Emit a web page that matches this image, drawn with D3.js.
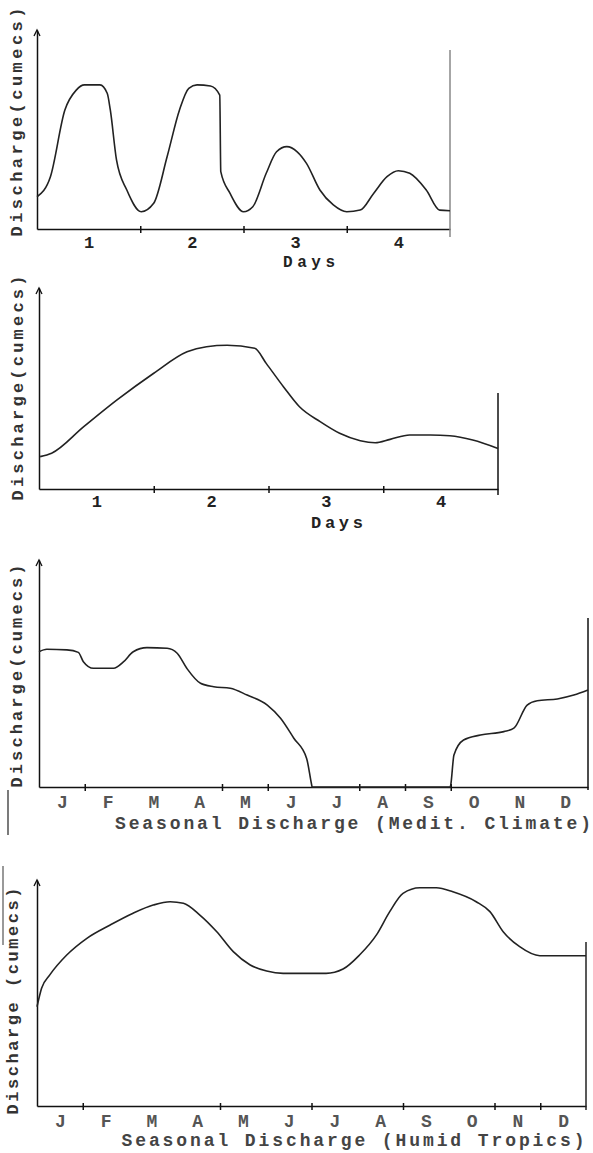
<!DOCTYPE html>
<html>
<head>
  <meta charset="utf-8">
  <title>Discharge hydrographs</title>
  <style>
  body {
    margin: 0;
    background: #fff;
  }
  .curve {
    fill: none;
    stroke: #222;
    stroke-width: 1.6;
  }
  .axis path, .axis line {
    stroke: #111;
    stroke-width: 1.5;
  }
  .lbl {
    font-family: "Liberation Mono", "DejaVu Sans Mono", monospace;
    fill: #222;
  }
  </style>
</head>
<body>
  <div id="chart"></div>

  <script src="https://d3js.org/d3.v7.min.js"></script>
  <script>
  // tick labels
  var dayLabels = ["1", "2", "3", "4"]
  var dayCenters = [1, 2, 3, 4]
  var dayTicks = [1.5, 2.5, 3.5]
  var monthLabels = ["J", "F", "M", "A", "M", "J", "J", "A", "S", "O", "N", "D"]
  var monthCenters = [0.5, 1.5, 2.5, 3.5, 4.5, 5.5, 6.5, 7.5, 8.5, 9.5, 10.5, 11.5]
  var meditTicks = [1, 4, 5, 7, 8, 9]
  var tropicsTicks = [1, 4, 6, 8, 10, 11]

  // hydrograph 1 : daily peaks, discharge in arbitrary units (0-10)
  var daysA = [0.50, 0.63, 0.77, 0.88, 0.96, 1.11, 1.18, 1.21, 1.27, 1.37, 1.51, 1.63, 1.76, 1.88, 1.97,
               2.05, 2.18, 2.27, 2.28, 2.37, 2.50, 2.59, 2.72, 2.82, 2.92, 3.02, 3.11, 3.24, 3.37, 3.50,
               3.63, 3.76, 3.89, 4.00, 4.11, 4.27, 4.40, 4.50]
  var dischargeA = [1.62, 2.63, 5.98, 6.98, 7.24, 7.24, 6.82, 5.98, 3.47, 1.96, 0.87, 1.29, 3.63, 5.98, 7.07,
                    7.24, 7.19, 6.73, 2.88, 1.79, 0.87, 1.12, 2.80, 3.88, 4.14, 3.88, 3.30, 1.96, 1.21, 0.87,
                    0.95, 1.79, 2.63, 2.93, 2.80, 1.96, 0.95, 0.92]

  // hydrograph 2 : one broad flood wave
  var daysB = [0.51, 0.61, 0.89, 1.18, 1.50, 1.79, 1.96, 2.14, 2.38, 2.48, 2.63, 2.77, 2.95, 3.12, 3.30,
               3.43, 3.56, 3.73, 3.91, 4.08, 4.28, 4.50]
  var dischargeB = [1.61, 1.78, 3.10, 4.43, 5.76, 6.83, 7.08, 7.15, 7.00, 6.25, 5.09, 4.09, 3.35, 2.77, 2.40,
                    2.30, 2.47, 2.69, 2.69, 2.65, 2.44, 2.02]

  // seasonal regime, mediterranean climate (months from 1 Jan)
  var monthsMedit = [0, 0.17, 0.61, 0.86, 0.97, 1.19, 1.63, 1.85, 2.06, 2.36, 2.80, 3.02, 3.23, 3.53, 3.82,
                     4.18, 4.55, 4.99, 5.28, 5.57, 5.85, 5.96, 5.97, 8.99, 9.00, 9.07, 9.28, 9.65, 10.16,
                     10.38, 10.67, 10.89, 11.33, 11.69, 12]
  var dischargeMedit = [5.96, 6.07, 6.04, 5.93, 5.52, 5.23, 5.23, 5.52, 5.96, 6.14, 6.11, 5.89, 5.23, 4.57, 4.42,
                        4.35, 4.05, 3.61, 3.03, 2.15, 1.26, 0.09, 0, 0, 0.09, 1.41, 2.07, 2.29, 2.44,
                        2.59, 3.61, 3.80, 3.88, 4.05, 4.27]

  // seasonal regime, humid tropics
  var monthsTropics = [0, 0.10, 0.28, 0.65, 1.09, 1.60, 2.10, 2.54, 2.91, 3.20, 3.56, 3.93, 4.29, 4.66, 5.02,
                       5.38, 6.32, 6.69, 7.05, 7.42, 7.71, 8.00, 8.37, 8.73, 9.09, 9.60, 9.90, 10.19, 10.55,
                       10.99, 11.43, 12]
  var dischargeTropics = [4.39, 5.21, 5.80, 6.68, 7.42, 8.01, 8.53, 8.89, 9.04, 8.97, 8.45, 7.71, 6.83, 6.24, 5.97,
                          5.87, 5.87, 6.06, 6.68, 7.57, 8.60, 9.41, 9.66, 9.66, 9.48, 9.04, 8.60, 7.71, 7.05,
                          6.65, 6.65, 6.65]

  var W = 593, H = 1153

  var svg = d3.select("#chart").append("svg")
    .attr("width", W)
    .attr("height", H)

  svg.append("rect").attr("width", W).attr("height", H).attr("fill", "#fff")

  var panels = [
    {xs: daysA, ys: dischargeA, domain: [0.5, 4.5], xr: [37, 450], yr: [229, 30],
     ticks: dayTicks, centers: dayCenters, labels: dayLabels, tickFont: 17, bold: true, labelY: 248,
     title: "Days", titleX: 309, titleY: 267, titleLen: 52, titleFont: 16,
     ylab: "Discharge(cumecs)", ylabX: 17, ylabLen: 229, ylabCenter: 122,
     right: [50, 237], rightColor: "#888", xAxisColor: "#888"},
    {xs: daysB, ys: dischargeB, domain: [0.5, 4.5], xr: [39, 498], yr: [489, 288],
     ticks: dayTicks, centers: dayCenters, labels: dayLabels, tickFont: 17, bold: true, labelY: 507,
     title: "Days", titleX: 337, titleY: 528, titleLen: 52, titleFont: 17,
     ylab: "Discharge(cumecs)", ylabX: 18, ylabLen: 225, ylabCenter: 388,
     right: [393, 495], rightColor: "#111", xAxisColor: "#111"},
    {xs: monthsMedit, ys: dischargeMedit, domain: [0, 12], xr: [39, 588], yr: [787, 560],
     ticks: meditTicks, centers: monthCenters, labels: monthLabels, tickFont: 18, bold: false, labelY: 808,
     title: "Seasonal Discharge (Medit. Climate)", titleX: 353, titleY: 829, titleLen: 476, titleFont: 18,
     ylab: "Discharge(cumecs)", ylabX: 17, ylabLen: 223, ylabCenter: 676,
     right: [618, 790], rightColor: "#111", xAxisColor: "#111"},
    {xs: monthsTropics, ys: dischargeTropics, domain: [0, 12], xr: [37, 586], yr: [1106, 880],
     ticks: tropicsTicks, centers: monthCenters, labels: monthLabels, tickFont: 18, bold: false, labelY: 1127,
     title: "Seasonal Discharge (Humid Tropics)", titleX: 353, titleY: 1146, titleLen: 463, titleFont: 18,
     ylab: "Discharge (cumecs)", ylabX: 13, ylabLen: 227, ylabCenter: 1001,
     right: [942, 1110], rightColor: "#222", xAxisColor: "#222"}
  ]

  function drawPanel(p) {
    var x = d3.scaleLinear().domain(p.domain).range(p.xr)
    var y = d3.scaleLinear().domain([0, 10]).range(p.yr)
    var y0 = p.yr[0]

    // y axis, no ticks
    svg.append("g")
      .attr("class", "axis")
      .attr("transform", "translate(" + p.xr[0] + ",0)")
      .call(d3.axisLeft(y).tickValues([]).tickSizeOuter(0))

    // little arrow head on top of y axis
    svg.append("path")
      .attr("d", "M" + (p.xr[0] - 3) + "," + (p.yr[1] + 6) + "L" + p.xr[0] + "," + p.yr[1] + "L" + (p.xr[0] + 3) + "," + (p.yr[1] + 6))
      .attr("fill", "none")
      .attr("stroke", "#111")
      .attr("stroke-width", 1.3)

    // x axis with boundary ticks
    var xa = svg.append("g")
      .attr("class", "axis")
      .attr("transform", "translate(0," + y0 + ")")
      .call(d3.axisBottom(x).tickValues(p.ticks).tickFormat("").tickSizeOuter(0))
    xa.selectAll("line").attr("y1", -3).attr("y2", 4).attr("stroke", "#666").attr("stroke-width", 1)
    xa.select(".domain").attr("stroke", p.xAxisColor)

    // category labels
    var la = svg.append("g")
      .attr("transform", "translate(0," + p.labelY + ")")
      .call(d3.axisBottom(x).tickValues(p.centers).tickSize(0).tickPadding(0)
        .tickFormat(function(d, i) { return p.labels[i] }))
    la.select(".domain").remove()
    la.selectAll("text")
      .attr("class", "lbl")
      .attr("dy", 0)
      .attr("y", 0)
      .style("font-size", p.tickFont + "px")
      .style("font-weight", "bold")
      .style("fill", p.bold ? "#222" : "#555")

    // right-hand closing line
    svg.append("line")
      .attr("x1", p.xr[1]).attr("x2", p.xr[1])
      .attr("y1", p.right[0]).attr("y2", p.right[1])
      .attr("stroke", p.rightColor)
      .attr("stroke-width", 1.5)

    // curve
    var pts = p.xs.map(function(d, i) { return [d, p.ys[i]] })
    var line = d3.line()
      .x(function(d) { return x(d[0]) })
      .y(function(d) { return y(d[1]) })
      .curve(d3.curveMonotoneX)
    svg.append("path")
      .datum(pts)
      .attr("class", "curve")
      .attr("d", line)

    // x title
    svg.append("text")
      .attr("class", "lbl")
      .attr("x", p.titleX)
      .attr("y", p.titleY)
      .attr("text-anchor", "middle")
      .attr("textLength", p.titleLen)
      .attr("lengthAdjust", "spacing")
      .style("font-size", p.titleFont + "px")
      .style("font-weight", "bold")
      .style("fill", p.bold ? "#222" : "#444")
      .text(p.title)

    // y title
    svg.append("text")
      .attr("class", "lbl")
      .attr("transform", "translate(" + p.ylabX + "," + p.ylabCenter + ") rotate(-90)")
      .attr("text-anchor", "middle")
      .attr("dominant-baseline", "central")
      .attr("textLength", p.ylabLen)
      .attr("lengthAdjust", "spacing")
      .style("font-size", "17px")
      .style("font-weight", "bold")
      .style("fill", "#333")
      .text(p.ylab)
  }

  panels.forEach(drawPanel)

  // stray scan marks at the left margin
  svg.append("line").attr("x1", 8).attr("x2", 8).attr("y1", 790).attr("y2", 835)
    .attr("stroke", "#333").attr("stroke-width", 1.3)
  svg.append("line").attr("x1", 3).attr("x2", 3).attr("y1", 866).attr("y2", 945)
    .attr("stroke", "#555").attr("stroke-width", 1.2)
  </script>
</body>
</html>
